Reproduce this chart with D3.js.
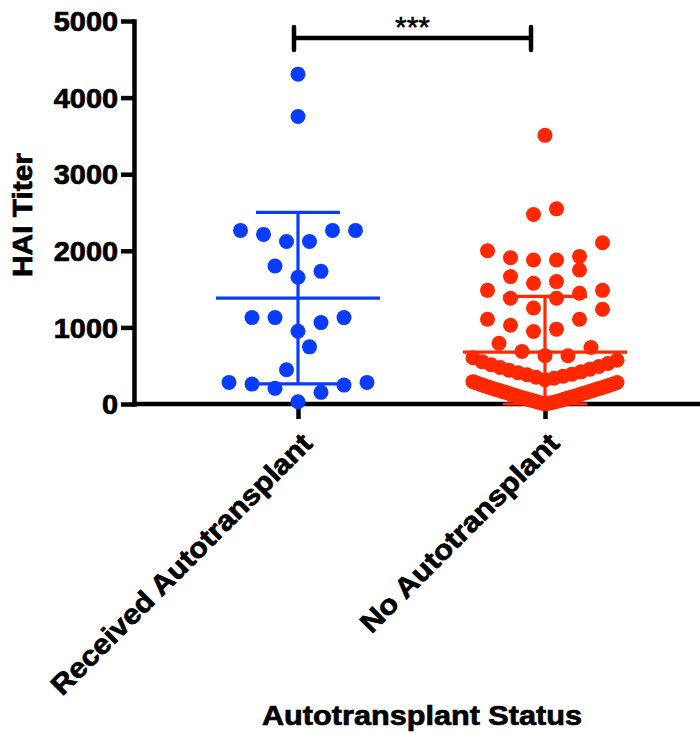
<!DOCTYPE html>
<html>
<head>
<meta charset="utf-8">
<script src="https://cdn.jsdelivr.net/npm/d3@7"></script>
<style>
  html, body { margin: 0; padding: 0; background: #fff; }
  svg { display: block; }
  text { font-family: "Liberation Sans", Arial, Helvetica, sans-serif; fill: #000; }
  .heavy { stroke: #000; stroke-width: 0.7; paint-order: stroke; }
</style>
</head>
<body>
<script>
// Groups on the x axis
const categories = ["Received Autotransplant", "No Autotransplant"];

// HAI titers, one value per patient
const receivedTiters = [
  4306, 3754, 2266, 2266, 2266, 2214, 2122, 2122, 1801, 1732, 1654,
  1128, 1128, 1128, 1063, 950, 746, 447, 282, 282, 260, 247, 204, 152, 30
];
const noTransplantTiters = [
  3507, 2548, 2474, 2105, 2001, 1927, 1910, 1879, 1879, 1749, 1663, 1598,
  1576, 1484, 1484, 1445, 1380, 1380, 1254, 1237, 1107, 1107, 1029, 977,
  947, 794, 738, 686, 629, 629,
  604, 571, 553, 528, 512, 489, 476, 455, 441, 420, 409, 390, 381, 362,
  349, 336, 318,
  292, 281, 273, 262, 255, 246, 238, 229, 222, 213, 205, 199, 190, 183,
  176, 168, 160, 151, 146, 137, 128, 121, 114, 105, 99, 90, 83, 77, 68,
  61, 54, 47, 41, 33, 27, 20, 14, 9, 5
];

// Axis ticks and labels
const yTicks = [0, 1000, 2000, 3000, 4000, 5000];
const significance = "***";
const xTitle = "Autotransplant Status";
const yTitle = "HAI Titer";

const groups = [
  { name: categories[0], values: receivedTiters, color: "#0a3cff", labelLen: 356 },
  { name: categories[1], values: noTransplantTiters, color: "#ff2800", labelLen: 268 }
];

const W = 700, H = 733;
const svg = d3.select("body").append("svg").attr("width", W).attr("height", H);

const y = d3.scaleLinear().domain([0, 5000]).range([404, 21]);
const x = d3.scalePoint().domain(categories).range([298, 545]);

const axisX0 = 134;
const bold = "700";

// ---- Y axis ----
const yAxisG = svg.append("g")
  .attr("transform", `translate(${axisX0},0)`)
  .call(d3.axisLeft(y).tickValues(yTicks).tickSize(13).tickSizeOuter(0)
    .tickPadding(3).tickFormat(d3.format("d")));
yAxisG.select(".domain").attr("stroke", "#000").attr("stroke-width", 4.5)
  .attr("stroke-linecap", "square");
yAxisG.selectAll(".tick line").attr("stroke", "#000").attr("stroke-width", 4.5);
yAxisG.selectAll(".tick text")
  .attr("class", "heavy")
  .attr("font-size", 27).attr("font-weight", bold)
  .attr("dy", "0.36em")
  .attr("fill", "#000")
  .each(function () {
    const t = d3.select(this);
    const tx = +t.attr("x");
    t.attr("transform", `translate(${tx},0) scale(1.07,1) translate(${-tx},0)`);
  });

// ---- X axis ----
const xAxisG = svg.append("g")
  .attr("transform", `translate(0,${y(0)})`)
  .call(d3.axisBottom(x).tickSize(15).tickSizeOuter(0).tickFormat(""));
xAxisG.select(".domain").remove();
xAxisG.selectAll(".tick line").attr("stroke", "#000").attr("stroke-width", 4.5);
xAxisG.append("line")
  .attr("x1", axisX0 - 2).attr("x2", W)
  .attr("y1", 0).attr("y2", 0)
  .attr("stroke", "#000").attr("stroke-width", 4.5);

// rotated category labels
svg.append("g").selectAll("text")
  .data(groups)
  .join("text")
  .attr("class", "heavy")
  .attr("transform", d => `translate(${x(d.name) + 16},445) rotate(-45)`)
  .attr("text-anchor", "end")
  .attr("font-size", 28)
  .attr("font-weight", bold)
  .attr("textLength", d => d.labelLen)
  .attr("lengthAdjust", "spacingAndGlyphs")
  .text(d => d.name);

// axis titles
svg.append("text")
  .attr("class", "heavy")
  .attr("x", 422).attr("y", 725)
  .attr("text-anchor", "middle")
  .attr("font-size", 28).attr("font-weight", bold)
  .attr("textLength", 320).attr("lengthAdjust", "spacingAndGlyphs")
  .text(xTitle);

svg.append("text")
  .attr("class", "heavy")
  .attr("transform", `translate(32,215) rotate(-90)`)
  .attr("text-anchor", "middle")
  .attr("font-size", 27).attr("font-weight", bold)
  .attr("textLength", 124).attr("lengthAdjust", "spacingAndGlyphs")
  .text(yTitle);

// ---- Column scatter layout: values binned into rows, spread sideways ----
const rowSpan = 300;     // value range sharing one row
const slotPx = 23;       // preferred horizontal spacing of points
const maxHalfPx = 72;    // widest a row may spread from the centre

function layoutColumn(values) {
  const sorted = values.slice().sort((a, b) => a - b);
  const rows = [];
  let current = null;
  for (const v of sorted) {
    if (!current || v - current.start >= rowSpan) {
      current = { start: v, items: [] };
      rows.push(current);
    }
    current.items.push(v);
  }
  const placed = [];
  for (const row of rows) {
    const n = row.items.length;
    const step = n > 1 ? Math.min(slotPx, (2 * maxHalfPx) / (n - 1)) : slotPx;
    row.items.forEach((v, i) => {
      let slot;
      if (n % 2 === 1) {
        if (i === 0) slot = 0;
        else { const k = Math.ceil(i / 2); slot = (i % 2 === 1) ? k : -k; }
      } else {
        const k = Math.floor(i / 2) + 0.5;
        slot = (i % 2 === 0) ? -k : k;
      }
      placed.push({ value: v, dx: slot * step });
    });
  }
  return placed;
}

const r = 7.5;
groups.forEach(g => {
  const cx = x(g.name);
  svg.append("g").selectAll("circle")
    .data(layoutColumn(g.values))
    .join("circle")
    .attr("cx", d => cx + d.dx)
    .attr("cy", d => y(d.value))
    .attr("r", r)
    .attr("fill", g.color);
});

// ---- Mean with SD ----
const meanHalf = 82, capHalf = 42;
groups.forEach(g => {
  const cx = x(g.name);
  const m = d3.mean(g.values);
  const sd = d3.deviation(g.values);
  const lo = Math.max(0, m - sd), hi = m + sd;
  const eg = svg.append("g").attr("stroke", g.color).attr("stroke-width", 3.2);
  eg.append("line").attr("x1", cx).attr("x2", cx).attr("y1", y(lo)).attr("y2", y(hi));
  eg.append("line").attr("x1", cx - meanHalf).attr("x2", cx + meanHalf)
    .attr("y1", y(m)).attr("y2", y(m));
  [lo, hi].forEach(v => {
    eg.append("line").attr("x1", cx - capHalf).attr("x2", cx + capHalf)
      .attr("y1", y(v)).attr("y2", y(v));
  });
});

// ---- Significance bracket ----
const bx1 = x(categories[0]) - 4, bx2 = x(categories[1]) - 14, by = 38;
const br = svg.append("g").attr("stroke", "#000").attr("stroke-width", 4.5);
br.append("line").attr("x1", bx1).attr("x2", bx2).attr("y1", by).attr("y2", by);
[bx1, bx2].forEach(bx => {
  br.append("line").attr("x1", bx).attr("x2", bx).attr("y1", by - 11).attr("y2", by + 12)
    .attr("stroke-linecap", "round");
});
svg.append("text")
  .attr("x", (bx1 + bx2) / 2).attr("y", 37)
  .attr("text-anchor", "middle")
  .attr("font-size", 30)
  .attr("stroke", "#000").attr("stroke-width", 0.5)
  .text(significance);
</script>
</body>
</html>
